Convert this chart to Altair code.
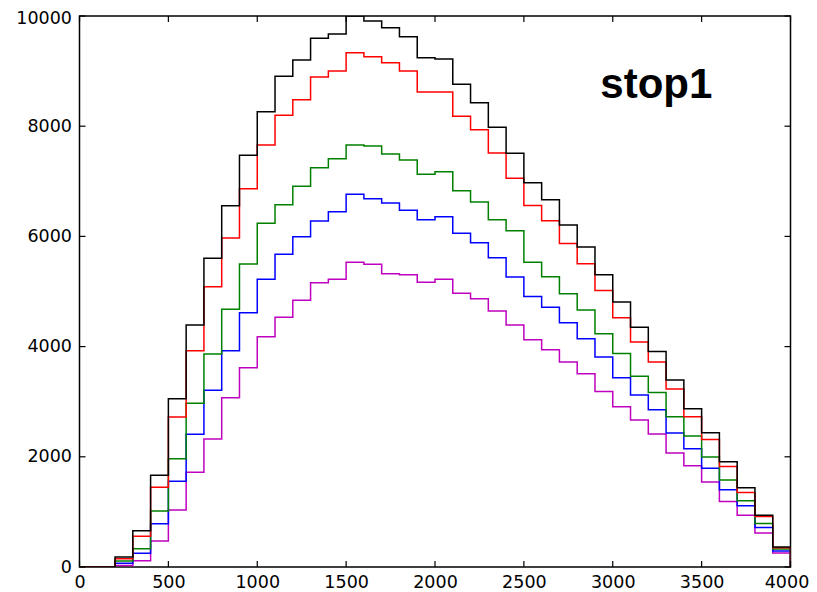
import altair as alt
import pandas as pd

# bin left edges (width 100)
bin_edges = list(range(0, 4000, 100))

black = [0, 0, 180, 660, 1664, 3055, 4392, 5602, 6557, 7471, 8263, 8905, 9201, 9595, 9673,
         10000, 9909, 9788, 9624, 9243, 9220, 8760, 8427, 7980, 7508, 6975, 6666, 6207, 5808,
         5305, 4809, 4349, 3913, 3394, 2873, 2437, 1911, 1439, 937, 363]
red = [0, 0, 150, 557, 1446, 2722, 3926, 5087, 5971, 6866, 7659, 8197, 8481, 8893, 9002,
       9334, 9262, 9153, 9002, 8621, 8621, 8179, 7937, 7514, 7054, 6563, 6285, 5873, 5505,
       5020, 4525, 4084, 3721, 3230, 2728, 2316, 1826, 1354, 918, 350]
green = [0, 0, 110, 333, 1016, 1966, 2970, 3866, 4677, 5499, 6237, 6575, 6909, 7247, 7410,
         7659, 7641, 7495, 7387, 7127, 7175, 6830, 6624, 6303, 6103, 5530, 5269, 4960, 4664,
         4234, 3877, 3460, 3169, 2728, 2377, 1996, 1579, 1203, 791, 327]
blue = [0, 0, 70, 248, 786, 1555, 2408, 3207, 3926, 4615, 5221, 5675, 5995, 6279, 6448,
        6764, 6684, 6606, 6473, 6303, 6358, 6056, 5886, 5613, 5263, 4911, 4712, 4434, 4144,
        3811, 3435, 3121, 2855, 2432, 2147, 1790, 1403, 1113, 719, 290]
magenta = [0, 0, 25, 112, 472, 1034, 1718, 2323, 3073, 3617, 4180, 4531, 4840, 5160, 5221,
           5530, 5494, 5323, 5305, 5167, 5221, 4967, 4870, 4646, 4392, 4125, 3944, 3720, 3508,
           3187, 2909, 2668, 2414, 2069, 1838, 1543, 1191, 937, 617, 254]

series = [("magenta", magenta, "#bf00bf"),
          ("blue", blue, "#0000ff"),
          ("green", green, "#008000"),
          ("red", red, "#ff0000"),
          ("black", black, "#000000")]

x_ticks = [0, 500, 1000, 1500, 2000, 2500, 3000, 3500, 4000]
y_ticks = [0, 2000, 4000, 6000, 8000, 10000]
annotation = "stop1"

W, H = 711, 551
FONT = "DejaVu Sans"

xscale = alt.Scale(domain=[0, 4000], nice=False, zero=False)
yscale = alt.Scale(domain=[0, 10000], nice=False)
xaxis = alt.Axis(values=x_ticks, format="d", ticks=False, domain=False, grid=False,
                 labelFont=FONT, labelFontSize=17.5, labelColor="#000000", labelPadding=6,
                 title="", labelFlush=False, labelOverlap=False,
                 labelOffset={"condition": {"test": "datum.value == 4000", "value": -4},
                              "value": 0})
yaxis = alt.Axis(values=y_ticks, format="d", ticks=False, domain=False, grid=False,
                 labelFont=FONT, labelFontSize=17.5, labelColor="#000000", labelPadding=8,
                 title="", labelOverlap=False, labelFlush=False,
                 labelOffset={"condition": {"test": "datum.value == 10000", "value": 2},
                              "value": 0})

layers = []
for name, vals, col in series:
    xs = bin_edges + [4000, 4000]
    ys = vals + [vals[-1], 0]
    df = pd.DataFrame({"x": xs, "y": ys, "i": list(range(len(xs)))})
    layers.append(
        alt.Chart(df).mark_line(interpolate="step-after", strokeWidth=1.5, color=col, clip=True)
        .encode(x=alt.X("x:Q", scale=xscale, axis=xaxis),
                y=alt.Y("y:Q", scale=yscale, axis=yaxis),
                order=alt.Order("i:Q"))
    )

xt = pd.DataFrame({"t": x_ticks})
yt = pd.DataFrame({"t": y_ticks})
tick_style = dict(color="#000000", strokeWidth=1.2)
bottom_ticks = alt.Chart(xt).mark_rule(**tick_style).encode(
    x=alt.X("t:Q", scale=xscale, axis=xaxis), y=alt.value(H), y2=alt.value(H - 6))
top_ticks = alt.Chart(xt).mark_rule(**tick_style).encode(
    x=alt.X("t:Q", scale=xscale, axis=xaxis), y=alt.value(0), y2=alt.value(6))
left_ticks = alt.Chart(yt).mark_rule(**tick_style).encode(
    y=alt.Y("t:Q", scale=yscale, axis=yaxis), x=alt.value(0), x2=alt.value(6))
right_ticks = alt.Chart(yt).mark_rule(**tick_style).encode(
    y=alt.Y("t:Q", scale=yscale, axis=yaxis), x=alt.value(W), x2=alt.value(W - 6))

label_df = pd.DataFrame({"x": [2930], "y": [8510], "label": [annotation]})
label = alt.Chart(label_df).mark_text(
    font="Liberation Sans", fontSize=42, fontWeight="bold", align="left",
    baseline="alphabetic", color="#000000"
).encode(x=alt.X("x:Q", scale=xscale, axis=xaxis),
         y=alt.Y("y:Q", scale=yscale, axis=yaxis),
         text="label:N")

chart = alt.layer(*layers, bottom_ticks, top_ticks, left_ticks, right_ticks, label).properties(
    width=W, height=H, autosize="none",
    padding={"left": 71.5, "top": 8, "right": 18.5, "bottom": 30},
    background="#ffffff"
).configure_view(stroke="#000000", strokeWidth=1.5)

chart.save("out.html", embed_options={"renderer": "svg", "actions": False})
